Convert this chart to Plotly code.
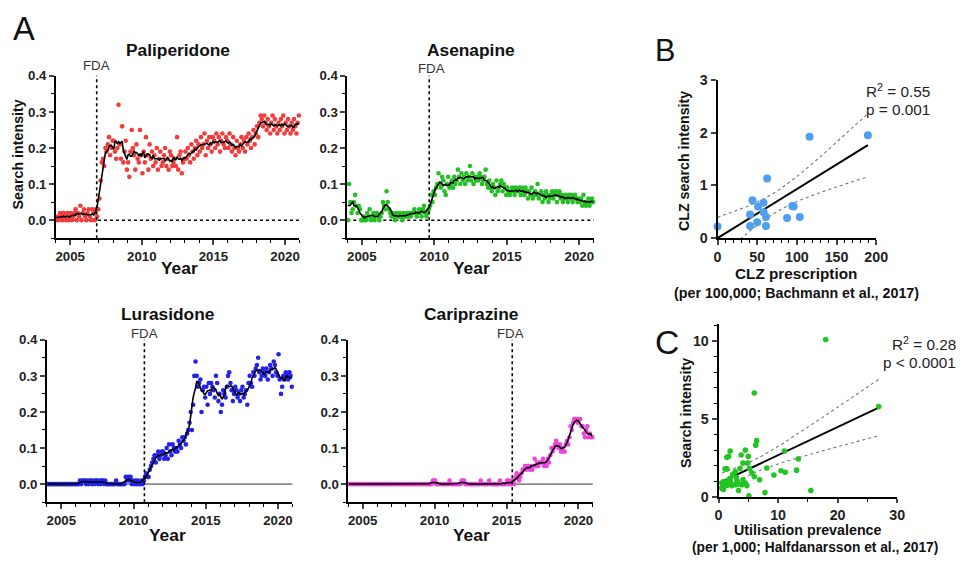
import numpy as np
import pandas as pd
import plotly.graph_objects as go

W, H = 969, 564

# ---------------- DATA ----------------
years = list(range(2004, 2021))
months = [y + (m + 0.5) / 12 for y in years for m in range(12)]

pali = [
    0.00,0.01,0.00,0.02,0.01,0.00,0.02,0.01,0.00,0.02,0.00,0.01,
    0.02,0.00,0.01,0.02,0.03,0.00,0.02,0.01,0.04,0.00,0.02,0.03,
    0.01,0.00,0.02,0.03,0.01,0.00,0.03,0.02,0.00,0.03,0.01,0.03,
    0.06,0.11,0.16,0.17,0.15,0.20,0.19,0.21,0.23,0.18,0.20,0.22,
    0.22,0.19,0.17,0.20,0.32,0.21,0.17,0.26,0.16,0.19,0.22,0.14,
    0.16,0.12,0.19,0.25,0.20,0.18,0.14,0.21,0.17,0.16,0.25,0.18,
    0.13,0.19,0.16,0.23,0.18,0.14,0.21,0.17,0.19,0.15,0.18,0.16,
    0.20,0.14,0.17,0.19,0.15,0.16,0.18,0.20,0.15,0.17,0.14,0.19,
    0.18,0.15,0.16,0.17,0.15,0.23,0.14,0.18,0.19,0.13,0.16,0.17,
    0.19,0.17,0.20,0.18,0.16,0.21,0.19,0.17,0.20,0.22,0.18,0.21,
    0.19,0.23,0.20,0.21,0.24,0.18,0.22,0.20,0.23,0.21,0.19,0.23,
    0.22,0.20,0.24,0.21,0.23,0.19,0.22,0.24,0.21,0.20,0.23,0.22,
    0.20,0.24,0.21,0.19,0.23,0.20,0.18,0.22,0.20,0.19,0.21,0.23,
    0.20,0.22,0.19,0.23,0.21,0.24,0.22,0.20,0.23,0.25,0.21,0.24,
    0.26,0.23,0.27,0.29,0.28,0.26,0.29,0.27,0.25,0.28,0.26,0.24,
    0.27,0.29,0.25,0.28,0.26,0.24,0.27,0.25,0.28,0.26,0.29,0.24,
    0.27,0.25,0.28,0.26,0.24,0.27,0.25,0.28,0.26,0.24,0.27,0.29,
]
asen = [
    0.00,0.10,0.05,0.02,0.03,0.05,0.07,0.04,0.02,0.04,0.03,0.00,
    0.00,0.01,0.00,0.00,0.02,0.01,0.03,0.00,0.01,0.02,0.00,0.01,
    0.02,0.01,0.00,0.01,0.02,0.05,0.04,0.03,0.08,0.05,0.03,0.02,
    0.01,0.02,0.01,0.00,0.02,0.01,0.01,0.02,0.01,0.00,0.02,0.01,
    0.01,0.02,0.01,0.02,0.01,0.02,0.02,0.03,0.02,0.01,0.02,0.03,
    0.02,0.01,0.03,0.04,0.02,0.01,0.02,0.03,0.04,0.07,0.05,0.08,
    0.07,0.09,0.10,0.13,0.10,0.09,0.12,0.11,0.08,0.07,0.10,0.12,
    0.09,0.10,0.11,0.09,0.12,0.10,0.11,0.14,0.12,0.10,0.13,0.11,
    0.12,0.10,0.13,0.11,0.12,0.15,0.11,0.13,0.10,0.12,0.11,0.12,
    0.11,0.13,0.12,0.10,0.11,0.12,0.14,0.10,0.09,0.11,0.09,0.08,
    0.10,0.09,0.07,0.11,0.08,0.09,0.10,0.11,0.08,0.10,0.09,0.07,
    0.09,0.08,0.07,0.08,0.09,0.08,0.07,0.09,0.08,0.08,0.09,0.07,
    0.09,0.08,0.07,0.09,0.08,0.06,0.08,0.07,0.09,0.06,0.07,0.08,
    0.07,0.10,0.06,0.07,0.08,0.05,0.07,0.06,0.08,0.07,0.05,0.06,
    0.07,0.08,0.06,0.07,0.08,0.05,0.07,0.08,0.06,0.07,0.05,0.06,
    0.07,0.06,0.05,0.07,0.06,0.07,0.05,0.06,0.07,0.06,0.05,0.06,
    0.05,0.06,0.04,0.07,0.05,0.04,0.05,0.06,0.04,0.05,0.06,0.05,
]
lura = [
    0.00,0.00,0.00,0.00,0.00,0.00,0.00,0.00,0.00,0.00,0.00,0.00,
    0.00,0.00,0.00,0.00,0.00,0.00,0.00,0.00,0.00,0.00,0.00,0.00,
    0.00,0.00,0.00,0.01,0.00,0.01,0.01,0.01,0.00,0.01,0.00,0.01,
    0.01,0.00,0.01,0.00,0.01,0.01,0.00,0.01,0.00,0.01,0.01,0.00,
    0.01,0.00,0.00,0.00,0.00,0.00,0.00,0.00,0.00,0.01,0.00,0.00,
    0.00,0.00,0.00,0.00,0.00,0.02,0.01,0.02,0.01,0.02,0.00,0.01,
    0.00,0.01,0.00,0.01,0.00,0.00,0.01,0.00,0.01,0.02,0.03,0.02,
    0.02,0.04,0.05,0.06,0.07,0.08,0.06,0.08,0.09,0.07,0.08,0.09,
    0.09,0.07,0.08,0.10,0.07,0.11,0.09,0.08,0.11,0.10,0.09,0.10,
    0.09,0.12,0.11,0.10,0.13,0.12,0.13,0.11,0.14,0.15,0.17,0.20,
    0.15,0.22,0.30,0.34,0.30,0.27,0.28,0.29,0.20,0.26,0.27,0.24,
    0.27,0.22,0.28,0.25,0.28,0.27,0.26,0.24,0.30,0.28,0.23,0.25,
    0.20,0.22,0.26,0.25,0.24,0.27,0.30,0.31,0.28,0.26,0.23,0.25,
    0.27,0.26,0.24,0.25,0.23,0.26,0.27,0.24,0.25,0.26,0.22,0.28,
    0.30,0.28,0.27,0.31,0.30,0.32,0.33,0.35,0.31,0.29,0.30,0.32,
    0.31,0.30,0.32,0.29,0.31,0.33,0.32,0.30,0.34,0.33,0.31,0.30,
    0.36,0.29,0.25,0.27,0.30,0.29,0.31,0.30,0.29,0.31,0.30,0.27,
]
cari = [
    0.00,0.00,0.00,0.00,0.00,0.00,0.00,0.00,0.00,0.00,0.00,0.00,
    0.00,0.00,0.00,0.00,0.00,0.00,0.00,0.00,0.00,0.00,0.00,0.00,
    0.00,0.00,0.00,0.00,0.00,0.00,0.00,0.00,0.00,0.00,0.00,0.00,
    0.00,0.00,0.00,0.00,0.00,0.00,0.00,0.00,0.00,0.00,0.00,0.00,
    0.00,0.00,0.00,0.00,0.00,0.00,0.00,0.00,0.00,0.00,0.00,0.00,
    0.00,0.00,0.00,0.00,0.00,0.00,0.00,0.00,0.00,0.00,0.01,0.01,
    0.01,0.00,0.00,0.00,0.00,0.00,0.00,0.00,0.00,0.00,0.00,0.00,
    0.01,0.00,0.00,0.00,0.00,0.00,0.00,0.00,0.00,0.00,0.01,0.01,
    0.01,0.00,0.00,0.00,0.00,0.00,0.00,0.00,0.00,0.00,0.00,0.00,
    0.00,0.00,0.01,0.00,0.00,0.00,0.00,0.00,0.00,0.01,0.00,0.00,
    0.00,0.00,0.00,0.00,0.00,0.00,0.01,0.00,0.00,0.00,0.00,0.00,
    0.01,0.00,0.01,0.00,0.00,0.01,0.00,0.02,0.03,0.02,0.01,0.02,
    0.03,0.04,0.04,0.05,0.04,0.05,0.05,0.04,0.05,0.04,0.05,0.07,
    0.05,0.06,0.05,0.06,0.06,0.06,0.07,0.05,0.06,0.05,0.07,0.06,
    0.08,0.10,0.09,0.10,0.11,0.12,0.11,0.10,0.11,0.09,0.10,0.09,
    0.09,0.11,0.12,0.11,0.13,0.16,0.15,0.17,0.18,0.18,0.18,0.17,
    0.18,0.18,0.16,0.16,0.14,0.13,0.15,0.16,0.13,0.14,0.13,0.13,
]

drug_names = ["Paliperidone", "Asenapine", "Lurasidone", "Cariprazine"]
fda_dates = [2006.85, 2009.65, 2010.75, 2015.4]

# Panel B
clz_prescription = [0, 44, 41, 41, 51, 50, 58, 58, 61, 61, 62.5, 87.6, 94.3, 96, 103.6, 116, 189.5]
clz_search = [0.22, 0.72, 0.45, 0.23, 0.60, 0.30, 0.67, 0.49, 0.40, 0.23, 1.13, 0.38, 0.61, 0.60, 0.40, 1.92, 1.95]

# Panel C
util_prev = [26.9, 18.0, 6.0, 6.4, 6.25, 1.95, 1.7, 1.4, 4.5, 3.8, 5.0, 11.06, 13.4, 4.1, 4.9,
             1.4, 1.1, 3.6, 5.2, 8.1, 13.1, 10.5, 11.2, 9.3, 5.6, 6.0, 6.9, 2.8, 2.4, 1.95,
             1.7, 0.84, 0.56, 1.1, 1.4, 2.2, 2.8, 3.35, 3.9, 4.5, 4.75, 4.1, 3.1, 0.56, 0.84,
             3.35, 5.1, 7.8, 15.5, 0.6, 2.0, 3.0]
util_search = [5.8, 10.1, 6.67, 3.62, 3.33, 2.96, 2.61, 2.55, 3.02, 2.7, 2.61, 2.96, 2.45, 2.18, 2.18,
               1.81, 1.81, 1.83, 1.83, 1.87, 1.73, 1.69, 1.59, 1.42, 1.56, 1.32, 1.11, 1.63, 1.46, 1.21,
               1.11, 1.0, 0.9, 0.84, 0.76, 0.74, 0.8, 0.84, 0.8, 0.9, 0.74, 1.11, 1.0, 0.6, 0.49,
               0.43, 0.08, 0.29, 0.43, 0.55, 0.95, 1.25]

# ---------------- STYLE / PLACEMENT ----------------
FONT = "Liberation Sans, Arial, sans-serif"
A_colors = ["#f23b3b", "#22c022", "#2222ee", "#ee44dd"]

# the photographed page shows the figure slightly inset and shrunk; placement
# below is given in the target picture's pixels and mapped to figure pixels.
SX, OX = 0.9855, 4.0
SY, OY = 0.9755, 5.9
FS = 1 / 0.98

def xp(px):
    return min(max((px - OX) / SX / W, 0.0), 1.0)

def yp(py):
    return min(max(1 - (py - OY) / SY / H, 0.0), 1.0)

def fs(size):
    return size * FS

fig = go.Figure()

A_dom = [((56, 300), (74, 237)), ((348, 595), (74, 237)),
         ((47, 293), (339, 502)), ((349, 594), (339, 502))]

tickfont = dict(family=FONT, size=fs(13), color="#222", weight="bold")

series = [pali, asen, lura, cari]
for i, (vals, name, col, fda) in enumerate(zip(series, drug_names, A_colors, fda_dates)):
    k = i + 1
    xa = "x" if k == 1 else f"x{k}"
    ya = "y" if k == 1 else f"y{k}"
    fig.add_trace(go.Scatter(x=months, y=vals, mode="markers", xaxis=xa, yaxis=ya,
                             marker=dict(color=col, size=4.6), showlegend=False,
                             cliponaxis=False))
    smooth = pd.Series(vals).rolling(7, center=True, min_periods=1).mean()
    fig.add_trace(go.Scatter(x=months, y=smooth, mode="lines", xaxis=xa, yaxis=ya,
                             line=dict(color="black", width=1.6), showlegend=False))
    (x0, x1), (y0, y1) = A_dom[i]
    xkey = "xaxis" if k == 1 else f"xaxis{k}"
    ykey = "yaxis" if k == 1 else f"yaxis{k}"
    fig.layout[xkey] = dict(domain=[xp(x0), xp(x1)], anchor=ya, range=[2004, 2021],
                            tickvals=[2005, 2010, 2015, 2020], ticks="outside", ticklen=5,
                            tickwidth=1.5, showline=True, linecolor="black", linewidth=1.6,
                            showgrid=False, zeroline=False, tickfont=tickfont,
                            minor=dict(tick0=2004, dtick=1, ticks="outside", ticklen=3,
                                       tickwidth=1.2, tickcolor="black", showgrid=False))
    fig.layout[ykey] = dict(domain=[yp(y1), yp(y0)], anchor=xa, range=[-0.05, 0.4],
                            tickvals=[0, 0.1, 0.2, 0.3, 0.4], tickformat=".1f",
                            ticks="outside", ticklen=5, tickwidth=1.5, showline=True,
                            linecolor="black", linewidth=1.6, showgrid=False, zeroline=False,
                            tickfont=tickfont,
                            minor=dict(tick0=0, dtick=0.05, ticks="outside", ticklen=3,
                                       tickwidth=1.2, tickcolor="black", showgrid=False))
    if k <= 2:
        zl = dict(color="black", width=1.5, dash="dot")
    else:
        zl = dict(color="#333", width=1.0)
    fig.add_shape(type="line", xref=f"{xa} domain", yref=ya, x0=0, x1=1, y0=0, y1=0, line=zl,
                  layer="below")
    fig.add_shape(type="line", xref=xa, yref=f"{ya} domain", x0=fda, x1=fda, y0=0, y1=1,
                  line=dict(color="black", width=1.6, dash="dot"))

# ---------------- Panel B ----------------
def fit_band(x, y, tval, xg):
    x = np.asarray(x, float)
    y = np.asarray(y, float)
    n = len(x)
    b, a = np.polyfit(x, y, 1)
    xbar = x.mean()
    sxx = ((x - xbar) ** 2).sum()
    s = np.sqrt(((y - (a + b * x)) ** 2).sum() / (n - 2))
    yg = a + b * xg
    half = tval * s * np.sqrt(1 / n + (xg - xbar) ** 2 / sxx)
    return yg, yg - half, yg + half

xgB = np.linspace(min(clz_prescription), max(clz_prescription), 100)
ygB, loB, hiB = fit_band(clz_prescription, clz_search, 2.131, xgB)
for yy in (loB, hiB):
    fig.add_trace(go.Scatter(x=xgB, y=yy, mode="lines", xaxis="x5", yaxis="y5",
                             line=dict(color="#777", width=1.1, dash="dot"), showlegend=False))
fig.add_trace(go.Scatter(x=xgB, y=ygB, mode="lines", xaxis="x5", yaxis="y5",
                         line=dict(color="black", width=2), showlegend=False))
fig.add_trace(go.Scatter(x=clz_prescription, y=clz_search, mode="markers", xaxis="x5", yaxis="y5",
                         marker=dict(color="#4d9ff0", size=8), showlegend=False, cliponaxis=False))

fig.layout["xaxis5"] = dict(domain=[xp(719), xp(878)], anchor="y5", range=[0, 200],
                            tickvals=[0, 50, 100, 150, 200], ticks="outside", ticklen=5,
                            tickwidth=1.5, showline=True, linecolor="black", linewidth=1.8,
                            showgrid=False, zeroline=False, tickfont=dict(tickfont, size=fs(14)),
                            minor=dict(dtick=10, ticks="outside", ticklen=3, tickwidth=1.2,
                                       tickcolor="black", showgrid=False))
fig.layout["yaxis5"] = dict(domain=[yp(237), yp(78)], anchor="x5", range=[0, 3],
                            tickvals=[0, 1, 2, 3], ticks="outside", ticklen=5, tickwidth=1.5,
                            showline=True, linecolor="black", linewidth=1.8, showgrid=False,
                            zeroline=False, tickfont=dict(tickfont, size=fs(14)))

# ---------------- Panel C ----------------
xgC = np.linspace(min(util_prev), max(util_prev), 100)
ygC, loC, hiC = fit_band(util_prev, util_search, 2.008, xgC)
for yy in (loC, hiC):
    fig.add_trace(go.Scatter(x=xgC, y=yy, mode="lines", xaxis="x6", yaxis="y6",
                             line=dict(color="#777", width=1.1, dash="dot"), showlegend=False))
fig.add_trace(go.Scatter(x=xgC, y=ygC, mode="lines", xaxis="x6", yaxis="y6",
                         line=dict(color="black", width=2), showlegend=False))
fig.add_trace(go.Scatter(x=util_prev, y=util_search, mode="markers", xaxis="x6", yaxis="y6",
                         marker=dict(color="#22c422", size=5.6), showlegend=False, cliponaxis=False))

fig.layout["xaxis6"] = dict(domain=[xp(720), xp(899)], anchor="y6", range=[0, 30],
                            tickvals=[0, 10, 20, 30], ticks="outside", ticklen=4, tickwidth=1.5,
                            showline=True, linecolor="black", linewidth=1.8, showgrid=False,
                            zeroline=False, tickfont=dict(tickfont, size=fs(14)),
                            minor=dict(dtick=5, ticks="outside", ticklen=3, tickwidth=1.2,
                                       tickcolor="black", showgrid=False))
fig.layout["yaxis6"] = dict(domain=[yp(497), yp(323)], anchor="x6", range=[0, 11.1],
                            tickvals=[0, 5, 10], ticks="outside", ticklen=5, tickwidth=1.5,
                            showline=True, linecolor="black", linewidth=1.8, showgrid=False,
                            zeroline=False, tickfont=dict(tickfont, size=fs(14)),
                            minor=dict(dtick=1, ticks="outside", ticklen=3, tickwidth=1.2,
                                       tickcolor="black", showgrid=False))

# ---------------- Annotations ----------------
def ann(text, x, y, size, bold=False, xanchor="center", yanchor="middle", angle=0, color="#111"):
    fig.add_annotation(text=text, x=xp(x), y=yp(y), xref="paper", yref="paper",
                       showarrow=False, xanchor=xanchor, yanchor=yanchor, textangle=angle,
                       borderpad=0,
                       font=dict(family=FONT, size=fs(size), color=color,
                                 weight="bold" if bold else "normal"))

ann("A", 24, 26, 32)
ann("B", 666, 48, 30)
ann("C", 668, 342, 33)

title_pos = [(178, 48), (472, 48), (168, 313), (472, 313)]
for name, (tx, ty) in zip(drug_names, title_pos):
    ann(name, tx, ty, 17, bold=True)

year_pos = [(180, 267), (472, 267), (168, 535), (472, 535)]
for (tx, ty) in year_pos:
    ann("Year", tx, ty, 17, bold=True)

fda_label_pos = [(97, 64), (432, 67), (145, 333), (512, 333)]
for (tx, ty) in fda_label_pos:
    ann("FDA", tx, ty, 13, color="#333")

ann("Search intensity", 18, 153, 14, bold=True, angle=-90)

ann("CLZ search intensity", 686, 160, 14, bold=True, angle=-90)
ann("CLZ prescription", 798, 272, 15, bold=True)
ann("(per 100,000; Bachmann et al., 2017)", 798, 292, 14, bold=True)
ann("R<sup>2</sup> = 0.55", 933, 89, 15, xanchor="right", color="#222")
ann("p = 0.001", 933, 108, 15, xanchor="right", color="#222")

ann("Search intensity", 688, 413, 14, bold=True, angle=-90)
ann("Utilisation prevalence", 810, 530, 14, bold=True)
ann("(per 1,000; Halfdanarsson et al., 2017)", 817, 570, 13.5, bold=True, yanchor="bottom")
ann("R<sup>2</sup> = 0.28", 970, 343, 15, xanchor="right", color="#222")
ann("p < 0.0001", 970, 362, 15, xanchor="right", color="#222")

fig.update_layout(width=W, height=H, margin=dict(l=0, r=0, t=0, b=0),
                  paper_bgcolor="white", plot_bgcolor="white", showlegend=False,
                  font=dict(family=FONT))

fig.write_html("out.html", config={"displayModeBar": False},
               post_script="document.body.style.margin='0px';"
                           "document.documentElement.style.overflow='hidden';")
